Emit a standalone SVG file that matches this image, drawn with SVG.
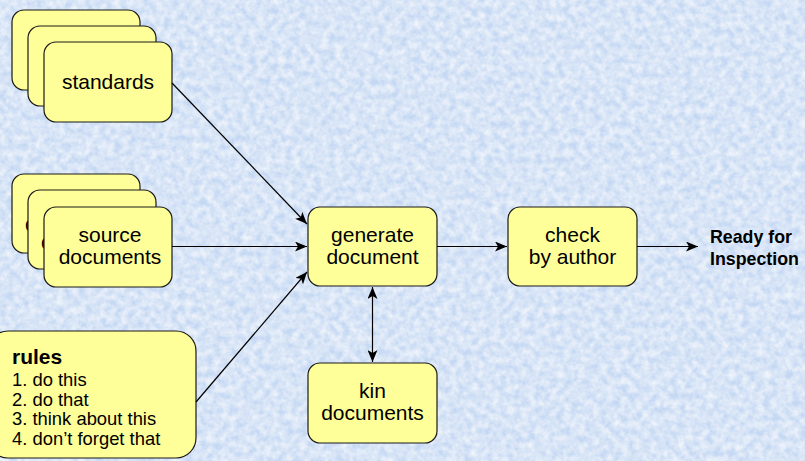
<svg xmlns="http://www.w3.org/2000/svg" width="805" height="461" viewBox="0 0 805 461">
<style>
.box{fill:#ffff99;stroke:#1a1a1a;stroke-width:1.2}
.t{font-family:"Liberation Sans",Arial,sans-serif;font-size:21px;fill:#000;text-anchor:middle}
.r{font-family:"Liberation Sans",Arial,sans-serif;font-size:18.4px;fill:#000}
.b{font-family:"Liberation Sans",Arial,sans-serif;font-weight:bold;fill:#000}
.c{fill:none;stroke:#000;stroke-width:1.2}
</style>
<defs>
<marker id="ah" viewBox="0 0 12 10" refX="12" refY="5" markerWidth="12" markerHeight="10" markerUnits="userSpaceOnUse" orient="auto-start-reverse">
<path d="M0,0 L12,5 L0,10 L3,5 Z" fill="#000"/>
</marker>
<filter id="tex" x="0" y="0" width="100%" height="100%">
<feTurbulence type="fractalNoise" baseFrequency="0.14" numOctaves="3" seed="7" result="n"/>
<feColorMatrix in="n" type="matrix" values="0 0 0 0 1  0 0 0 0 1  0 0 0 0 1  1.1 0 0 0 -0.25" result="w"/>
<feComposite in="w" in2="SourceGraphic" operator="over"/>
</filter>
</defs>
<rect width="805" height="461" fill="#c4d8f3"/>
<rect width="805" height="461" fill="#c4d8f3" filter="url(#tex)"/>

<g id="standards">
<rect class="box" x="12" y="10" width="128" height="80" rx="12"/>
<rect class="box" x="28" y="26" width="128" height="80" rx="12"/>
<rect class="box" x="44" y="42" width="128" height="80" rx="12"/>
<text class="t" x="108" y="89">standards</text>
</g>

<g id="source-documents">
<rect class="box" x="12" y="174" width="128" height="79" rx="12"/>
<text class="t" x="25" y="231" style="text-anchor:start">d</text>
<rect class="box" x="28" y="190" width="128" height="79" rx="12"/>
<text class="t" x="41" y="249" style="text-anchor:start">d</text>
<rect class="box" x="44" y="207" width="128" height="80" rx="12"/>
<text class="t" x="110" y="242">source</text>
<text class="t" x="110" y="264">documents</text>
</g>

<g id="rules">
<rect class="box" x="-12" y="331" width="208" height="127" rx="20"/>
<text class="b" x="12" y="364" font-size="21">rules</text>
<text class="r" x="12" y="386">1. do this</text>
<text class="r" x="12" y="405.5">2. do that</text>
<text class="r" x="12" y="425">3. think about this</text>
<text class="r" x="12" y="444.5">4. don’t forget that</text>
</g>

<g id="generate-document">
<rect class="box" x="308" y="207" width="129" height="79" rx="12"/>
<text class="t" x="372.5" y="242">generate</text>
<text class="t" x="372.5" y="264">document</text>
</g>

<g id="check-by-author">
<rect class="box" x="508" y="207" width="129" height="79" rx="12"/>
<text class="t" x="572.5" y="242">check</text>
<text class="t" x="572.5" y="264">by author</text>
</g>

<g id="kin-documents">
<rect class="box" x="308" y="363" width="129" height="80" rx="12"/>
<text class="t" x="372.5" y="398">kin</text>
<text class="t" x="372.5" y="420">documents</text>
</g>

<g id="ready">
<text class="b" x="710" y="243" font-size="17.8">Ready for</text>
<text class="b" x="710" y="265" font-size="17.8">Inspection</text>
</g>

<g id="connectors">
<line class="c" x1="172" y1="83" x2="307" y2="224" marker-end="url(#ah)"/>
<line class="c" x1="172" y1="246.5" x2="307" y2="246.5" marker-end="url(#ah)"/>
<line class="c" x1="196" y1="402" x2="307" y2="272" marker-end="url(#ah)"/>
<line class="c" x1="437" y1="246.5" x2="507" y2="246.5" marker-end="url(#ah)"/>
<line class="c" x1="637" y1="246.5" x2="698" y2="246.5" marker-end="url(#ah)"/>
<line class="c" x1="372.5" y1="287" x2="372.5" y2="362" marker-start="url(#ah)" marker-end="url(#ah)"/>
</g>
</svg>
